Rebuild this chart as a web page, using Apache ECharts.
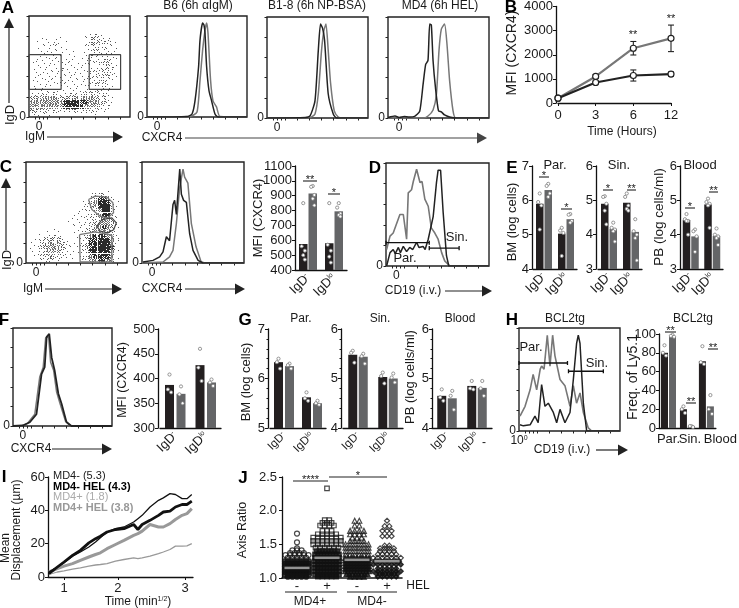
<!DOCTYPE html>
<html><head><meta charset="utf-8">
<style>html,body{margin:0;padding:0;background:#fff}#c{width:739px;height:608px}</style>
<script src="https://cdn.jsdelivr.net/npm/echarts@6/dist/echarts.min.js"></script>
</head><body><div id="c"></div>
<script>
const FONT='"Liberation Sans",Arial,sans-serif', DARK='#231f20', GRAY='#646567', INK='#1a1a1a';

// ---------- flow cytometry density (top row first, 0 = empty, 9 = darkest)
const dotRowsA=[
'000000000000000000000000','000000000000000000000000','000000000000000000000000','000000000000000000000000',
'000000000000011221000000','000110110000012432110000','001111211000013443221000','001111211000012332211000',
'001111110010011221211000','001111110110012122211000','011111111110112122321000','011111111111112123421000',
'011111121111111123421000','011111111111112133321000','011111111111112233321000','011111121111112233210000',
'011111111111112232310000','011111111111122333110000','112222211222233332200000','445556544445556543210000',
'666666667888776654310000','666666657888765543210000','443332222233222221100000','111110001000001100000000'];
const dotRowsC=[
'000000000000000000000000','000000000000000000000000','000000000000000000000000','000000000000000000000000',
'000000000000000000000000','000000000000000000000000','000000000000000000000000','000000000000000123210000',
'000000000000000247752000','000000000000011368873100','000000000000012358993100','000000000000112236994100',
'000000000001112235883100','000000000001111234653100','000000000011111345664200','000000000001111355764200',
'000001110001112455653100','000112321000113677765100','001234443100113778886200','011345554211124788986100',
'011345654210124789987200','011245553211123788886100','001234432101123678775100','000112221000012567764000'];
const densityDots=[0,1,2,3,5,7,9,11,14,16];
const ditherOrder=[[0,0],[2,2],[2,0],[0,2],[1,1],[3,3],[3,1],[1,3],[1,0],[3,2],[3,0],[1,2],[0,1],[2,3],[2,1],[0,3]];

// ---------- gates (plot units 0-100)
const gateALeft=[[0,61.7],[31.8,61.7],[31.8,27.4],[0,27.4],[0,61.7]];
const gateARight=[[59.6,61.7],[90.7,61.7],[90.7,27.4],[59.6,27.4],[59.6,61.7]];
const gateCTop=[[61.9,62.9],[68.5,66.2],[80.1,65.2],[86,59.6],[86.7,49.7],[80.8,44.7],[73.5,46.4],[65.2,53],[61.9,62.9]];
const gateCMid=[[70.2,36.4],[75.2,43],[85,44.7],[89.4,39.7],[86.8,33],[80.8,29.8],[73.5,31.5],[70.2,36.4]];
const gateCLow=[[53,28],[68.5,30.8],[85,27.5],[85,1],[53.6,1],[53,28]];
const gateDPar=[[0,20.6],[0,24.6],[0,22.6],[42,22.6],[42,20.6],[42,24.6]];
const gateDSin=[[42,15.4],[42,19.4],[42,17.4],[71,17.4],[71,15.4],[71,19.4]];
const gateHPar=[[0,64],[0,68],[0,66],[48,66],[48,64],[48,68]];
const gateHSin=[[49,56],[49,60],[49,58],[83.5,58],[83.5,56],[83.5,60]];

// ---------- histograms
const histA1Black=[[0,0],[40,0.5],[45,3],[48,16],[51.6,50],[53,76],[55.6,93],[57,91],[58,83],[59.6,50],[62,26],[64.6,16],[68,3],[71,0],[100,0]];
const histA1Gray=[[0,0],[43,0.5],[50,5],[53,36],[55.6,66],[58,86],[59.6,93],[61,83],[63.6,36],[66,16],[69.5,10],[73,0.5],[100,0]];
const histA2Black=[[0,0],[38,0.5],[42.6,2],[47.5,17],[50.8,67],[53,93],[55,89],[57,77],[60.6,24],[65.6,4],[69,0],[100,0]];
const histA2Gray=[[0,0],[42.6,0.5],[47.5,4],[50.8,24],[54,67],[56.4,87],[58.4,93],[60.6,67],[63,34],[66.6,7],[70.5,1],[74,0],[100,0]];
const histA3Black=[[0,0.5],[7,2],[11,0.5],[16,1.5],[21,1],[26.4,1.7],[31.4,6.7],[34.7,33],[37.3,53],[39.6,57],[41.3,93],[42.9,92],[44.6,57],[47,30],[50,7],[52.8,6],[56,3],[61,1],[67.7,0],[100,0]];
const histA3Gray=[[0,0],[34.7,0],[39.6,2],[44.6,8],[47.9,23],[50.5,67],[52.8,88],[56,93],[58.4,73],[61,37],[64.4,7],[67,0],[100,0]];
const histCBlack=[[1,1],[10.8,2.6],[17.3,6],[20.6,11],[23.9,26],[25.5,27.7],[27,22],[30.4,58],[32,62],[33.7,48],[37,93],[38.6,68],[40.8,62],[43.5,60],[46.7,29],[50,12.5],[55,2.6],[59.8,0],[100,0]];
const histCGray=[[0,0],[20.6,1],[27,6],[30.4,12.5],[33.7,39],[37,75],[40.2,93],[41.8,85],[45,79],[48.4,39],[53,16],[58,1],[62,0],[100,0]];
const histDGray=[[0.6,16],[3.9,29],[7,32],[13.5,50],[16.8,50],[20,26],[21.6,71],[24.8,74],[26.5,82],[29.7,94],[33,81],[35,82],[37.7,65],[41,58],[44,37],[47.4,32],[50.6,26],[54,13],[57,5],[62,0],[100,0]];
const histDBlack=[[0.6,0],[3.9,13],[7,16],[9,12],[12,18],[14,13],[16.8,19],[20,14],[23,18],[26,16],[29.7,23],[32,18],[36,19],[38,16],[41,26],[45.8,48],[49,81],[50.6,93],[53,93],[55.5,52],[58.7,10],[61,0],[100,0]];
const histFBlack=[[0,0],[10,0.5],[17,3.8],[23.7,12],[28.8,53],[32,60],[34,91],[36.6,94],[39,70],[42,57],[45.8,33],[49,23],[54,4],[59,0],[100,0]];
const histFGray=[[0,0],[8.5,0],[15,3],[22,12],[27,50],[30.5,60],[33,90],[36,91],[38,65],[41,57],[44,35],[47.5,23],[53,5],[58,0],[100,0]];
const histHGray=[[1,14.5],[6,24],[11,40],[14,55],[17.5,40],[21,60],[22.4,63],[24.8,60],[28,93],[30.7,63],[33.3,93],[35.6,73],[40.6,50],[45.5,44],[50.5,24],[53.8,44],[57,27],[60.4,37],[63.7,18],[68.6,3],[72,0],[100,0]];
const histHBlack=[[1,6],[4.3,5],[11,6],[15.8,14.5],[19,8],[22.4,45],[25.7,24],[29,27],[34,18],[37.3,8],[40.6,21],[45.5,8],[50.5,18],[53.8,50],[57,85],[58.7,93],[60.4,85],[63.7,27],[67,0],[100,0]];

// ---------- panel B
const timeHours=['0','3','6','12'];
const cxcr4Black=[200,850,1140,1200];
const cxcr4BlackErr=[0,60,230,90];
const cxcr4Gray=[200,1100,2270,2680];
const cxcr4GrayErr=[0,80,280,550];

// ---------- bar panels: bar heights, and the individual mice (first bar, second bar per group)
const igdLabels=['IgD-','IgDlo'];
const barsC=[[575,580],[915,795]];
const dotsC=[[[850,560,530,500,470],[850,570,530,490,450]],[[965,960,905,880,835],[850,820,780,770,760]]];
const barsE1=[[5.9,5.03],[6.3,5.45]];
const dotsE1=[[[6.2,5.95,5.85,5.15],[5.2,5.12,5.05,4.38]],[[6.48,6.42,6.2,6.1],[5.6,5.58,5.4,5.35]]];
const barsE2=[[4.9,4.93],[4.17,4.08]];
const dotsE2=[[[5.12,5.1,4.9,4.7,4.3],[5.2,5.1,4.85,4.75,4.7]],[[4.35,4.2,4.15,4.1,3.8],[4.45,4.1,4,3.9,3.25]]];
const barsE3=[[4.43,4.88],[3.95,3.96]];
const dotsE3=[[[4.6,4.45,4.4,4.4,4],[5.05,4.95,4.9,4.85,4.2]],[[4.15,4.1,3.95,3.5],[4.18,4,3.95,3.9,3.7]]];
const barsF=[[387,427],[369,392]];
const dotsF=[[[408,378,372],[460,422,395]],[[384,368,350],[398,392,385]]];
const barsG1=[[6.33,5.62],[6.25,5.5]];
const dotsG1=[[[6.4,6.33,6.2],[5.72,5.6,5.55]],[[6.3,6.27,6.2],[5.55,5.5,5.47]]];
const barsG2=[[5.48,5.03],[5.44,5]];
const dotsG2=[[[5.56,5.52,5.32],[5.12,5.05,4.9]],[[5.5,5.45,5.3],[5.1,5.02,4.92]]];
const barsG3=[[4.65,4.85],[4.6,4.81]];
const dotsG3=[[[4.78,4.62,4.55],[4.95,4.8,4.78]],[[4.75,4.65,4.37],[4.95,4.8,4.65]]];
const organLabels=['Par.','Sin.','Blood'];
const barsH=[[80,20,71],[97,2,23]];
const dotsH=[[[88,80,77],[23,20,16],[87,70,68]],[[99,98,97],[2,2,1],[35,20,15]]];

// ---------- panel I
const sqrtTime=[.75,.89,1,1.14,1.27,1.41,1.52,1.6,1.71,1.85,1.99,2.15,2.22,2.29,2.42,2.56,2.64,2.75,2.84,2.95,3.03,3.11];
const md4Minus=[3,6,8.5,12.5,15,18,21,23.5,27,29,30,33,35,37,42,46,47.5,50,49.5,47,47,49.5];
const md4MinusHel=[2,6,9,13,16,20.5,23,24.5,27,28.5,29,31.5,28.5,31.5,34,37,39,39.5,42,43.5,43.5,45.5];
const md4Plus=[1.5,3,3.7,4.7,5.5,6.5,7.2,7.5,8,9.5,10.5,11.5,11,11.5,12.5,14,15,16.5,18.5,18.5,18.7,20];
const md4PlusHel=[3,5,6.5,8,10,12,13.5,14.5,17,19.5,22,25,26,27.5,31.5,30,30,32,34.5,37,38,41];

// ---------- panel J: [axis ratio, number of cells at that ratio]
const ratioMD4PlusNo=[[1.02,5],[1.05,9],[1.09,9],[1.13,9],[1.17,9],[1.21,9],[1.25,9],[1.3,5],[1.34,6],[1.37,4],[1.41,3],[1.44,1],[1.53,1],[1.66,1]];
const ratioMD4PlusHel=[[1.02,5],[1.05,9],[1.1,9],[1.15,9],[1.2,9],[1.25,9],[1.3,9],[1.35,9],[1.4,8],[1.45,6],[1.5,7],[1.55,7],[1.6,7],[1.65,5],[1.7,3],[1.78,4],[1.82,3],[1.86,2],[2.33,1]];
const ratioMD4MinusNo=[[1.02,4],[1.06,8],[1.1,9],[1.14,9],[1.18,9],[1.22,9],[1.26,9],[1.3,9],[1.35,6],[1.4,6],[1.45,6],[1.5,6],[1.55,4],[1.6,3],[1.65,4],[1.7,4],[1.78,2],[1.85,2]];
const ratioMD4MinusHel=[[1.02,5],[1.06,8],[1.1,7],[1.14,5],[1.2,7],[1.25,9],[1.3,7],[1.35,5],[1.4,4],[1.44,4],[1.48,2],[1.62,3],[1.7,3],[1.77,2],[1.85,1]];
const ratioMeans=[1.15,1.3,1.27,1.25];
const solidBelow=[1.3,1.42,1.34,1.3];
const helLabels={0.5:'-',1.5:'+',2.5:'-',3.5:'+'};

// ---------- assembling
const grids=[],xAxes=[],yAxes=[],series=[],gfx=[];
const FS=12, TICK=13;
function T(text,x,y,o){o=o||{};const st={text,fill:o.color||INK,fontSize:o.size||FS,fontFamily:FONT,fontWeight:o.bold?'bold':'normal',
  align:o.align||'center',verticalAlign:'middle',textAlign:o.align||'center',textVerticalAlign:'middle'};
  if(o.rich)st.rich=o.rich;
  gfx.push({type:'text',x,y,rotation:o.rot?Math.PI/2:0,z:50,silent:true,style:st});}
function L(x1,y1,x2,y2,o){o=o||{};gfx.push({type:'line',z:50,silent:true,shape:{x1,y1,x2,y2},style:{stroke:o.color||'#222',lineWidth:o.w||1.2}});}
function arrowR(x1,x2,y,color){const c=color||'#222';L(x1,y,x2-8,y,{color:c});gfx.push({type:'polygon',z:50,silent:true,shape:{points:[[x2-10,y-5.5],[x2,y],[x2-10,y+5.5]]},style:{fill:c}});}
function arrowU(x,y1,y2){L(x,y1,x,y2+8);gfx.push({type:'polygon',z:50,silent:true,shape:{points:[[x-5,y2+10],[x,y2],[x+5,y2+10]]},style:{fill:'#222'}});}
function sig(x1,x2,y,s){L(x1,y,x2,y,{w:1.1});T(s,(x1+x2)/2,y-1,{size:11});}
function addGrid(l,t,w,h,extra){grids.push(Object.assign({left:l,top:t,width:w,height:h,containLabel:false},extra||{}));return grids.length-1;}

function lineS(idx,data,color,width,smooth){series.push({type:'line',xAxisIndex:idx,yAxisIndex:idx,data,showSymbol:false,symbol:'none',silent:true,
  smooth:smooth||0,lineStyle:{color,width},clip:true,animation:false});}

// each cell of the density table is drawn as a speckle of one-pixel events
function densityS(idx,rows){const n=rows.length,cw=100/rows[0].length,data=[];
  rows.forEach((r,i)=>{[...r].forEach((d,j)=>{if(d!=='0')data.push([j*cw,(n-1-i)*cw,+d,j,i]);});});
  series.push({type:'custom',xAxisIndex:idx,yAxisIndex:idx,data,silent:true,encode:{x:0,y:1},
    renderItem:(p,api)=>{const x=api.value(0),y=api.value(1),a=api.coord([x,y+cw]),b=api.coord([x+cw,y]);
      const k=densityDots[api.value(2)],start=(api.value(3)*7+api.value(4)*11)%16,kids=[];
      const col=api.value(2)>=7?'#2a2a2a':(api.value(2)>=5?'#6e6e6e':'#5a5a5a');
      for(let q=0;q<k;q++){const o=ditherOrder[(start+q)%16];
        kids.push({type:'rect',shape:{x:Math.round(a[0]+o[0]*(b[0]-a[0])/4),y:Math.round(a[1]+o[1]*(b[1]-a[1])/4),width:1,height:1},style:{fill:col}});}
      return {type:'group',children:kids};}});}

const xTicksDefault=[6,10,14,18,30,42,54,66,78,90];
function flow(rect,o){const i=addGrid(rect[0],rect[1],rect[2],rect[3],{show:true,borderColor:'#222',borderWidth:1.4,backgroundColor:'#fff'});
  xAxes.push({type:'value',gridIndex:i,min:0,max:100,splitLine:{show:false},axisLine:{show:false},
    axisTick:{show:true,length:2.5,customValues:xTicksDefault,lineStyle:{color:'#222'}},
    axisLabel:{show:true,customValues:[o.zeroX==null?10:o.zeroX],formatter:o.xFmt||(()=>'0'),color:INK,fontSize:o.xSize||FS,fontFamily:FONT,margin:o.xMargin||4,rich:o.xRich}});
  yAxes.push({type:'value',gridIndex:i,min:0,max:100,splitLine:{show:false},axisLine:{show:false},
    axisTick:{show:true,length:2.5,customValues:[0,20,40,60,80,100],lineStyle:{color:'#222'}},
    axisLabel:{show:true,customValues:[0],formatter:()=>'0',color:INK,fontSize:FS,fontFamily:FONT,margin:3}});
  if(o.rows)densityS(i,o.rows);
  (o.lines||[]).forEach(l=>lineS(i,l[0],l[1],l[2]||1.5,l[3]));
  return i;}

function barsPanel(o){const i=addGrid(o.l,o.t,o.w,o.h);
  const lab=o.labels, xf=o.xfs||TICK;
  xAxes.push({type:'category',gridIndex:i,data:lab,axisTick:{show:false},axisLine:{lineStyle:{color:'#111',width:1.3}},
    axisLabel:{interval:0,rotate:o.flat?0:45,margin:o.flat?5:6,hideOverlap:false,color:INK,fontFamily:FONT,fontSize:xf,
      formatter:o.flat?(v=>v==='Blood'?'{b|Blood}':(v==='Sin.'?'{c|Sin.}':'{m|Par.}')):(v=>v.endsWith('lo')?'{m|IgD}{s|lo}':'{m|IgD}{s|-}'),
      rich:{m:{fontSize:xf,fontFamily:FONT,color:INK},s:{fontSize:7,fontFamily:FONT,color:INK,verticalAlign:'top',lineHeight:12},
        b:{fontSize:xf,fontFamily:FONT,color:INK,padding:[0,0,0,28]},c:{fontSize:xf,fontFamily:FONT,color:INK,padding:[0,0,0,5]}}}});
  yAxes.push({type:'value',gridIndex:i,min:o.min,max:o.max,interval:o.iv,offset:o.off||0,splitLine:{show:false},
    axisLine:{show:true,onZero:false,lineStyle:{color:'#111',width:1.3}},
    axisTick:{show:true,length:3,lineStyle:{color:'#111'}},
    minorTick:{show:!!o.minor,splitNumber:5,length:1.5,lineStyle:{color:'#111'}},
    axisLabel:{color:INK,fontFamily:FONT,fontSize:TICK,margin:3,formatter:v=>String(v)}});
  const colors=[DARK,GRAY];
  o.bars.forEach((vals,s)=>series.push({type:'bar',xAxisIndex:i,yAxisIndex:i,data:vals,barWidth:o.bw,barGap:(o.gap/o.bw*100)+'%',silent:true,
    itemStyle:{color:colors[s]},z:2}));
  const shift=(o.bw+o.gap)/2, jit=[0,-1.6,1.6,0,1.6];
  const dots=[];
  o.dots.forEach((groups,s)=>groups.forEach((vals,g)=>vals.forEach((v,k)=>dots.push([g,v,s,jit[k%5]]))));
  series.push({type:'custom',xAxisIndex:i,yAxisIndex:i,data:dots,silent:true,z:5,encode:{x:0,y:1},clip:false,
    renderItem:(p,api)=>{const c=api.coord([api.value(0),api.value(1)]);
      return {type:'circle',shape:{cx:c[0]+(api.value(2)?shift:-shift)+api.value(3),cy:c[1],r:1.6},style:{fill:'#fff',stroke:'#7d7d7d',lineWidth:.8}};}});
  return i;}

// Panel A
flow([29,16,101,101],{rows:dotRowsA,lines:[[gateALeft,'#444',1.2],[gateARight,'#444',1.2]],zeroX:10});
flow([147,16,100,101],{lines:[[histA1Gray,'#777',1.5,.2],[histA1Black,'#222',1.5,.2]],zeroX:10});
flow([267,17,101,101],{lines:[[histA2Gray,'#777',1.5,.2],[histA2Black,'#222',1.5,.2]],zeroX:10});
flow([388,17,101,101],{lines:[[histA3Gray,'#777',1.5,.2],[histA3Black,'#222',1.5,.2]],zeroX:11});

// Panel B
(function(){const i=addGrid(558,3,113,100);
  xAxes.push({type:'category',gridIndex:i,data:timeHours,boundaryGap:false,axisLine:{lineStyle:{color:'#111',width:1.3}},axisTick:{length:3,lineStyle:{color:'#111'}},axisLabel:{color:INK,fontFamily:FONT,fontSize:TICK,margin:6}});
  yAxes.push({type:'value',gridIndex:i,min:0,max:4000,interval:1000,offset:2,splitLine:{show:false},axisLine:{show:true,lineStyle:{color:'#111',width:1.3}},axisTick:{show:true,length:3,lineStyle:{color:'#111'}},axisLabel:{color:INK,fontFamily:FONT,fontSize:TICK,margin:3,formatter:v=>String(v)}});
  [[cxcr4Gray,cxcr4GrayErr,'#777'],[cxcr4Black,cxcr4BlackErr,'#222']].forEach(([v,e,c])=>{
    const bars=v.map((m,k)=>[k,m-e[k],m+e[k]]);
    series.push({type:'custom',xAxisIndex:i,yAxisIndex:i,data:bars,silent:true,z:3,encode:{x:0,y:[1,2]},
      renderItem:(p,api)=>{const a=api.coord([api.value(0),api.value(1)]),b=api.coord([api.value(0),api.value(2)]);
        const ls=(x1,y1,x2,y2)=>({type:'line',shape:{x1,y1,x2,y2},style:{stroke:'#222',lineWidth:1.1}});
        return {type:'group',children:[ls(a[0],a[1],b[0],b[1]),ls(a[0]-3,a[1],a[0]+3,a[1]),ls(b[0]-3,b[1],b[0]+3,b[1])]};}});
    series.push({type:'line',xAxisIndex:i,yAxisIndex:i,data:v,symbol:'circle',symbolSize:6,silent:true,z:4,lineStyle:{color:c,width:2.2},
      itemStyle:{color:'#fff',borderColor:'#222',borderWidth:1.2}});
  });
})();

// Panel C
flow([26,162,101,101],{rows:dotRowsC,lines:[[gateCTop,'#777',1.3],[gateCMid,'#444',1.2],[gateCLow,'#777',1.3]],zeroX:10});
flow([142,162,102,101],{lines:[[histCGray,'#777',1.5],[histCBlack,'#222',1.5]],zeroX:10});
barsPanel({l:295,t:166,w:52,h:104,min:400,max:1100,iv:100,bw:8.5,gap:1,labels:igdLabels,bars:barsC,dots:dotsC});

// Panel D
flow([386,163,103,103],{lines:[[histDGray,'#777',1.6],[histDBlack,'#222',1.5],[gateDPar,'#111',1.3],[gateDSin,'#111',1.3]],zeroX:10});

// Panel E
barsPanel({l:533,t:166,w:44,h:103,min:4,max:7,iv:1,off:1,bw:7.5,gap:1,labels:igdLabels,bars:barsE1,dots:dotsE1});
barsPanel({l:598,t:166,w:44,h:103,min:3,max:6,iv:1,off:2,bw:7.5,gap:1,labels:igdLabels,bars:barsE2,dots:dotsE2});
barsPanel({l:680,t:166,w:43,h:103,min:3,max:6,iv:1,bw:7.5,gap:1,labels:igdLabels,bars:barsE3,dots:dotsE3});

// Panel F
flow([13,328,99,98],{lines:[[histFGray,'#777',1.5],[histFBlack,'#222',1.8]],zeroX:10});
barsPanel({l:160,t:329,w:61,h:99,min:300,max:500,iv:50,off:2,bw:9,gap:2.5,labels:igdLabels,bars:barsF,dots:dotsF});

// Panel G
barsPanel({l:270,t:329,w:56,h:99,min:5,max:7,iv:1,off:2,bw:9,gap:2,minor:true,xfs:11.5,labels:igdLabels,bars:barsG1,dots:dotsG1});
barsPanel({l:343,t:329,w:60,h:99,min:4,max:6,iv:1,off:2,bw:9,gap:1.5,minor:true,xfs:11.5,labels:igdLabels,bars:barsG2,dots:dotsG2});
barsPanel({l:432,t:329,w:60,h:99,min:4,max:6,iv:1,bw:9,gap:1.5,minor:true,xfs:11.5,labels:igdLabels,bars:barsG3,dots:dotsG3});

// Panel H
flow([519,328,101,103],{lines:[[histHGray,'#777',1.6],[histHBlack,'#222',1.5],[gateHPar,'#111',1.3],[gateHSin,'#111',1.3]],zeroX:0,
  xFmt:()=>'10{s|0}',xRich:{s:{fontSize:7,fontFamily:FONT,color:INK,verticalAlign:'top',lineHeight:12}},xMargin:4});
barsPanel({l:659,t:334,w:63,h:94,min:0,max:100,iv:20,bw:7,gap:1,flat:true,labels:organLabels,bars:barsH,dots:dotsH});

// Panel I
(function(){const i=addGrid(48,477,145,100);
  xAxes.push({type:'value',gridIndex:i,min:.735,max:3.13,splitLine:{show:false},axisLine:{onZero:false,lineStyle:{color:'#111',width:1.3}},
    axisTick:{show:true,length:3,customValues:[1,1.89,3],lineStyle:{color:'#111'}},minorTick:{show:false},
    axisLabel:{customValues:[1,1.89,3],formatter:v=>String(Math.round(v)),color:INK,fontFamily:FONT,fontSize:TICK,margin:5}});
  yAxes.push({type:'value',gridIndex:i,min:0,max:60,interval:20,splitLine:{show:false},axisLine:{show:true,onZero:false,lineStyle:{color:'#111',width:1.3}},
    axisTick:{show:true,length:3,lineStyle:{color:'#111'}},axisLabel:{color:INK,fontFamily:FONT,fontSize:TICK,margin:3}});
  const z=a=>sqrtTime.map((t,k)=>[t,a[k]]);
  lineS(i,z(md4Plus),'#999',1.3);
  lineS(i,z(md4PlusHel),'#999',3);
  lineS(i,z(md4Minus),'#111',1.3);
  lineS(i,z(md4MinusHel),'#111',2.8);
})();

// Panel J
(function(){const i=addGrid(282,477,120,101);
  xAxes.push({type:'value',gridIndex:i,min:0,max:4,splitLine:{show:false},axisLine:{onZero:false,lineStyle:{color:'#111',width:1.6}},axisTick:{show:false},
    axisLabel:{customValues:[.5,1.5,2.5,3.5],formatter:v=>helLabels[v]||'',color:INK,fontFamily:FONT,fontSize:13,margin:2}});
  yAxes.push({type:'value',gridIndex:i,min:1,max:2.5,interval:.5,splitLine:{show:false},axisLine:{show:true,onZero:false,lineStyle:{color:'#111',width:1.3}},
    axisTick:{show:true,length:3,lineStyle:{color:'#111'}},axisLabel:{color:INK,fontFamily:FONT,fontSize:TICK,margin:5,formatter:v=>v.toFixed(1)}});
  const symbols=['circle','rect','triangle','diamond'];
  [ratioMD4PlusNo,ratioMD4PlusHel,ratioMD4MinusNo,ratioMD4MinusHel].forEach((rows,g)=>{const data=[];
    rows.forEach(([r,n])=>{const sp=n>=8?3:4.6;for(let k=0;k<n;k++){
      const pt={value:[g+.5+(k-(n-1)/2)*sp/30,r]};
      if(r<solidBelow[g])pt.itemStyle={color:'#111',borderColor:'#111'};
      data.push(pt);}});
    series.push({type:'scatter',xAxisIndex:i,yAxisIndex:i,data,symbol:symbols[g],symbolSize:g===1?4.5:5,silent:true,z:3,
      itemStyle:{color:'rgba(255,255,255,0)',borderColor:'#1c1c1c',borderWidth:1.2}});});
  series.push({type:'scatter',xAxisIndex:i,yAxisIndex:i,data:ratioMeans.map((m,g)=>[g+.5,m]),symbol:'rect',symbolSize:[25,2.5],silent:true,z:6,itemStyle:{color:'#b4b4b4'}});
})();

// ---------- text and annotation
[['A',8,8],['B',511,7],['C',6,167],['D',375,168],['E',512,168],['F',4,320],['G',245,320],['H',512,320],['I',4,477],['J',243,478]]
  .forEach(a=>T(a[0],a[1],a[2],{size:17,bold:true,color:'#000'}));
T('B6 (6h αIgM)',198,6);T('B1-8 (6h NP-BSA)',317,6);T('MD4 (6h HEL)',440,6);
T('IgD',10,115,{rot:true,size:13});arrowU(9,103,18);T('IgM',35,137);arrowR(47,123,137);
T('CXCR4',162,138);arrowR(185,487,138,'#444');
T('MFI (CXCR4)',512,53,{rot:true,size:14});T('Time (Hours)',622,132);T('**',633,35,{size:11});T('**',671,19,{size:11});
T('IgD',7,260,{rot:true,size:13});arrowU(6,250,178);T('IgM',33,289);arrowR(45,122,289);T('CXCR4',162,289);arrowR(185,245,289);
T('MFI (CXCR4)',258,218,{rot:true,size:13});sig(303,317,181,'**');sig(328,340,194,'*');
T('CD19 (i.v.)',413,291);arrowR(445,492,291);T('Sin.',457,237,{size:13});T('Par.',405,258,{size:13});
T('Par.',555,165,{size:13});T('Sin.',619,165,{size:13});T('Blood',700,165,{size:13});
T('BM (log cells)',512,222,{rot:true,size:13});T('PB (log cells/ml)',659,217,{rot:true,size:13.5});
sig(539,549,177,'*');sig(561,572,209,'*');sig(603,613,190,'*');sig(627,636,190,'**');sig(685,695,208,'*');sig(709,718,192,'**');
T('CXCR4',31,449);arrowR(52,112,449);T('MFI (CXCR4)',123,380,{rot:true,size:12.5});
T('Par.',301,319);T('Sin.',380,319);T('Blood',460,319);
T('BM (log cells)',246,382,{rot:true,size:13});T('PB (log cells/ml)',410,377,{rot:true,size:13});T('-',484,443);
T('BCL2tg',565,319);T('BCL2tg',693,319);T('Freq. of Ly5.1',633,377,{rot:true,size:14});
T('CD19 (i.v.)',562,450);arrowR(596,628,450);T('Par.',531,347,{size:13});T('Sin.',597,363,{size:13});
sig(665,676,332,'**');sig(686,696,403,'**');sig(708,718,349,'**');
T('Mean',6,548,{rot:true});T('Displacement (µm)',17,530,{rot:true});
T('Time (min{s|1/2})',138,602,{rich:{s:{fontSize:7,fontFamily:FONT,fill:INK,color:INK,verticalAlign:'top',lineHeight:12}}});
T('MD4- (5.3)',53,476,{align:'left',size:11});T('MD4- HEL (4.3)',53,487,{align:'left',bold:true,color:'#000',size:11});
T('MD4+ (1.8)',53,497,{align:'left',color:'#aaaaaa',size:11});T('MD4+ HEL (3.8)',53,508,{align:'left',bold:true,color:'#999999',size:11});
T('Axis Ratio',243,530,{rot:true,size:12.5});T('HEL',418,586);T('MD4+',310,602);T('MD4-',372,602);
L(285,592,337,592);L(347,592,397,592);sig(293,328,481,'****');sig(329,387,477,'*');

const chart=echarts.init(document.getElementById('c'),null,{renderer:'canvas'});
chart.setOption({animation:false,backgroundColor:'#fff',tooltip:{show:false},legend:{show:false},
  grid:grids,xAxis:xAxes,yAxis:yAxes,series,graphic:{elements:gfx}});
</script></body></html>
